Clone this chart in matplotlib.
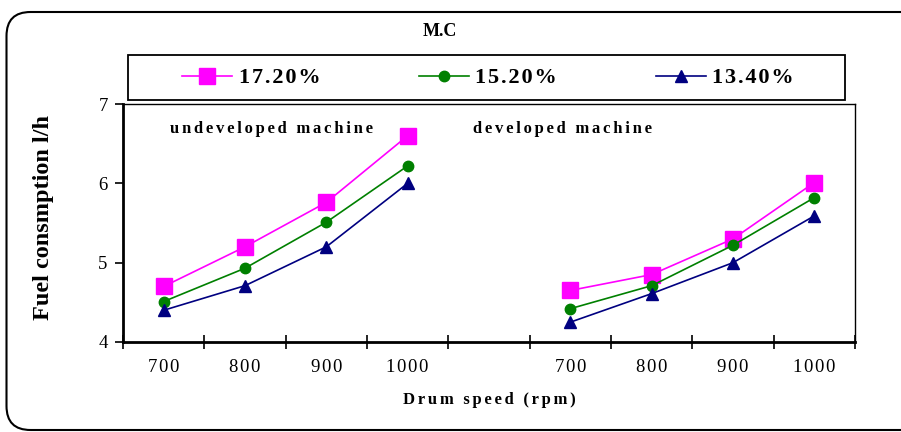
import matplotlib
matplotlib.use("Agg")
import matplotlib.pyplot as plt
from matplotlib.patches import FancyBboxPatch, Rectangle
from matplotlib.transforms import IdentityTransform
import numpy as np

categories = ["700", "800", "900", "1000", "", "700", "800", "900", "1000"]
series_names = ["17.20%", "15.20%", "13.40%"]
undev_172 = [4.70, 5.20, 5.76, 6.60]
undev_152 = [4.51, 4.93, 5.51, 6.22]
undev_134 = [4.40, 4.71, 5.20, 6.00]
dev_172 = [4.65, 4.85, 5.30, 6.01]
dev_152 = [4.42, 4.71, 5.22, 5.82]
dev_134 = [4.25, 4.61, 5.00, 5.59]

plt.rcParams['font.family'] = ['Liberation Serif', 'DejaVu Serif']


def spaced(s, sp="\u200a"):
    return sp.join(s)


fig = plt.figure(figsize=(9.01, 4.32), dpi=100)
W, H = 901, 432
ax = fig.add_axes([123/W, 1-342/H, (855-123)/W, (342-104)/H])

x = np.arange(len(categories))
xu = x[:4]
xd = x[5:]
styles = [
    dict(color="#FF00FF", marker="s", markersize=11.5, lw=1.2),
    dict(color="#008000", marker="o", markersize=7.5, lw=1.2),
    dict(color="#000080", marker="^", markersize=8.5, lw=1.2),
]
undev = [undev_172, undev_152, undev_134]
dev = [dev_172, dev_152, dev_134]
handles = []
for name, st, u, d in zip(series_names, styles, undev, dev):
    h, = ax.plot(xu, u, label=name, **st)
    ax.plot(xd, d, **st)
    handles.append(h)

ax.set_xlim(-0.5, len(categories) - 0.5)
ax.set_ylim(4, 7)
ax.set_yticks([4, 5, 6, 7])
ax.set_xticks(np.arange(len(categories) + 1) - 0.5, minor=False)
ax.set_xticklabels([])
ax.set_xticks(x, minor=True)
ax.set_xticklabels([spaced(c) for c in categories], minor=True)
ax.tick_params(axis='x', which='major', direction='inout', length=10, width=1.2)
ax.tick_params(axis='x', which='minor', length=0, pad=12, labelsize=13.5)
ax.tick_params(axis='y', direction='out', length=6, width=1.2, labelsize=13.5, pad=5)
for s in ['left', 'bottom']:
    ax.spines[s].set_linewidth(2)
for s in ['right', 'top']:
    ax.spines[s].set_linewidth(1)

ax.set_ylabel("Fuel consmption l/h", fontsize=17.5, fontweight='bold')
ax.yaxis.set_label_coords(-0.109, 0.523)
ax.yaxis.label.set_verticalalignment('center')
ax.set_xlabel(spaced("Drum speed (rpm)", "\u200a\u200a"), fontsize=12, fontweight='bold', labelpad=12)

ax.text(0.064, 0.895, spaced("undeveloped machine", "\u200a\u200a"), transform=ax.transAxes,
        fontsize=12, fontweight='bold', va='center', ha='left')
ax.text(0.478, 0.895, spaced("developed machine", "\u200a\u200a"), transform=ax.transAxes,
        fontsize=12, fontweight='bold', va='center', ha='left')

fig.text(440/W, 1-32/H, "M.C", fontsize=13, fontweight='bold', ha='center', va='center')

leg = fig.legend(handles=handles, labels=[spaced(s) for s in series_names], loc='center',
                 bbox_to_anchor=(488/W, 1-78/H), frameon=False,
                 ncol=3, prop=dict(size=16, weight='bold'), handlelength=2.25,
                 handletextpad=0.28, columnspacing=4.45)
fig.patches.append(Rectangle((128/W, 1-100/H), (845-128)/W, 45/H, transform=fig.transFigure,
                             fill=False, lw=1.3, edgecolor='black'))

box = FancyBboxPatch((6.5, 2), 940, 418,
                     boxstyle="round,pad=0,rounding_size=24",
                     transform=IdentityTransform(), fill=False, lw=1.5,
                     edgecolor='black', clip_on=False)
fig.patches.append(box)

fig.savefig("out.png", dpi=100)
